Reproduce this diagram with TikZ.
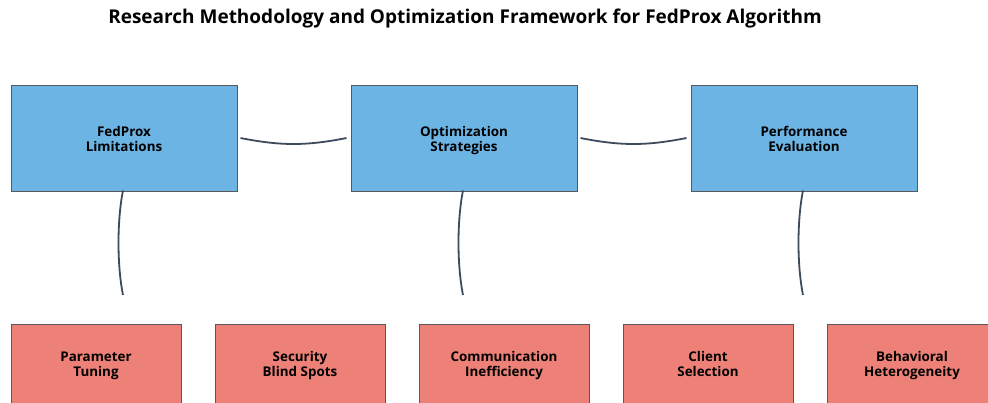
\documentclass[tikz,border=0pt]{standalone}
\usepackage{fontspec}
\setmainfont{Open Sans}
\begin{document}
\begin{tikzpicture}[x=1pt,y=-1pt,
  lbl/.style={font=\bfseries\fontsize{13.4}{15.2}\selectfont,align=center,inner sep=0pt},
  stage/.style={draw=black!65,line width=1pt,fill=stageblue,minimum width=226pt,minimum height=106pt,
    label={[lbl,yshift=-2pt]center:#1}},
  issue/.style={draw=black!65,line width=1pt,fill=issuered,minimum width=170pt,minimum height=106pt,
    label={[lbl,yshift=12pt]center:#1}},
  link/.style={draw=linkslate,line width=1.8pt}]
\definecolor{stageblue}{HTML}{6CB4E4}
\definecolor{issuered}{HTML}{EE8177}
\definecolor{linkslate}{HTML}{3E4B5D}
\useasboundingbox (0,0) rectangle (988,403);
\clip (0,0) rectangle (988,403);
\fill[white] (0,0) rectangle (988,403);

% title
\node[font=\bfseries\fontsize{19}{22}\selectfont] (title) at (465,19) {Research Methodology and Optimization Framework for FedProx Algorithm};

% main stages
\node[stage={FedProx\strut\\Limitations\strut}] (lim) at (124,139) {};
\node[stage={Optimization\strut\\Strategies\strut}] (opt) at (464,139) {};
\node[stage={Performance\strut\\Evaluation\strut}] (eva) at (804,139) {};

% issue boxes (run past the lower edge)
\node[issue={Parameter\strut\\Tuning\strut}] (par) at (96,378) {};
\node[issue={Security\strut\\Blind Spots\strut}] (sec) at (300,378) {};
\node[issue={Communication\strut\\Inefficiency\strut}] (com) at (504,378) {};
\node[issue={Client\strut\\Selection\strut}] (cli) at (708,378) {};
\node[issue={Behavioral\strut\\Heterogeneity\strut}] (beh) at (912,378) {};

% horizontal links between stages
\draw[link] ([xshift=3pt,yshift=1pt]lim.east) .. controls +(40,8) and +(-40,8) .. ([xshift=-4pt,yshift=1pt]opt.west);
\draw[link] ([xshift=3pt,yshift=1pt]opt.east) .. controls +(40,8) and +(-40,8) .. ([xshift=-4pt,yshift=1pt]eva.west);

% dangling links below each stage
\coordinate (limEnd) at (123,295);
\coordinate (optEnd) at (463,295);
\coordinate (evaEnd) at (803,295);
\draw[link] ([xshift=-1pt,yshift=2pt]lim.south) .. controls +(-6,30) and +(-6,-30) .. (limEnd);
\draw[link] ([xshift=-1pt,yshift=2pt]opt.south) .. controls +(-6,30) and +(-6,-30) .. (optEnd);
\draw[link] ([xshift=-1pt,yshift=2pt]eva.south) .. controls +(-6,30) and +(-6,-30) .. (evaEnd);
\end{tikzpicture}
\end{document}
